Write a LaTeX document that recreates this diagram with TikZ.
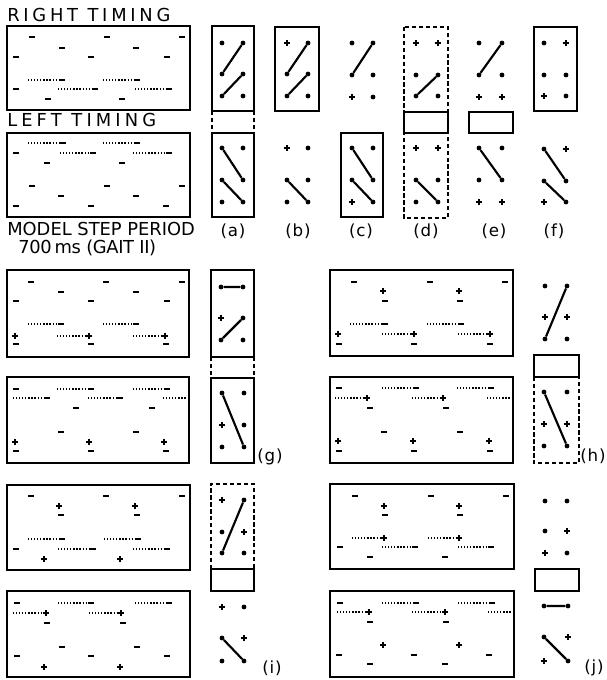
\documentclass[tikz,border=0pt]{standalone}
\usepackage{fontspec}
\newfontfamily\lett{DejaVu Sans}

% one row of marks at height #2, style #1, x positions #3
\newcommand{\evrow}[3]{\foreach \xx in {#3} {\node[#1] (#1-\xx-#2) at (\xx,#2) {};}}
% dotted trail at height #1 from #2 to #3, ending in a mark of style #4
\newcommand{\evtrail}[4]{\draw[dots] (#2,#1) -- (#3,#1); \node[#4] (#4-#3-#1) at (#3,#1) {};}
% 2x3 grid of marks: name, left x, right x, three rows, six styles
\newcommand{\minigrid}[7]{%
  \foreach \s [count=\k] in {#7} {%
    \pgfmathsetmacro\xx{mod(\k,2)==1 ? #2 : #3}%
    \pgfmathsetmacro\yy{\k<3 ? #4 : (\k<5 ? #5 : #6)}%
    \node[\s] (#1\k) at (\xx,\yy) {};
  }}

\begin{document}
\begin{tikzpicture}[x=0.75pt,y=-0.75pt,
    frame/.style={line width=1.2pt},
    boxdash/.style={line width=1pt,dash pattern=on 3.2pt off 2pt},
    dots/.style={line width=1.2pt,dash pattern=on 0.9pt off 1.4pt},
    link/.style={line width=1.6pt},
    evbar/.style={fill,inner sep=0pt,minimum width=5pt,minimum height=2.2pt},
    evdot/.style={circle,fill,inner sep=0pt,minimum size=3.6pt},
    evplus/.style={inner sep=0pt,minimum size=4.6pt,path picture={
        \draw[line width=1.1pt] (path picture bounding box.west) -- (path picture bounding box.east)
          (path picture bounding box.north) -- (path picture bounding box.south);}},
    head/.style={font=\lett\fontsize{13.4}{15}\selectfont\addfontfeature{LetterSpace=#1},
      inner sep=0pt,anchor=base west},
    head/.default=0,
    tag/.style={font=\lett\fontsize{12.5}{14}\selectfont\addfontfeature{LetterSpace=5},inner sep=0pt}]
  \useasboundingbox (0,0) rectangle (606,680);

  % headings
  \node[head=21] (right) at (7,21.5) {RIGHT TIMING};
  \node[head=23] (left) at (7,127) {LEFT TIMING};
  \node[head] (model) at (7,236) {MODEL STEP PERIOD};
  \node[head=-2] (gait) at (18,254) {700\,ms (GAIT II)};

  % right timing
  \draw[frame] (7,26) rectangle (190,110);
  \evrow{evbar}{37}{32,107,182}
  \evrow{evbar}{48}{62,136}
  \evrow{evbar}{57}{16,91,167}
  \evtrail{80}{28}{62}{evbar} \evtrail{80}{103}{137}{evbar}
  \evrow{evbar}{89}{16}
  \evtrail{89}{58}{95}{evbar} \evtrail{89}{135}{169}{evbar}
  \evrow{evbar}{99}{48,122}

  % left timing
  \draw[frame] (7,133) rectangle (190,217);
  \evtrail{143}{28}{63}{evbar} \evtrail{143}{103}{137}{evbar}
  \evrow{evbar}{153}{16}
  \evtrail{153}{60}{93}{evbar} \evtrail{153}{133}{169}{evbar}
  \evrow{evbar}{163}{47,122}
  \evrow{evbar}{186}{32,107,182}
  \evrow{evbar}{196}{61,136}
  \evrow{evbar}{206}{16,91,166}

  % (a)
  \draw[frame] (212,26) rectangle (254,111);
  \draw[boxdash] (212,111) -- (212,133) (254,111) -- (254,133);
  \draw[frame] (212,133) rectangle (254,217);
  \minigrid{au}{222}{243}{43}{74}{96}{evdot,evdot,evdot,evdot,evdot,evdot}
  \minigrid{al}{222}{243}{148}{180}{202}{evdot,evdot,evdot,evdot,evdot,evdot}
  \draw[link] (au3) -- (au2) (au5) -- (au4);
  \draw[link] (al1) -- (al4) (al3) -- (al6);
  % (b)
  \draw[frame] (275,27) rectangle (319,111);
  \minigrid{bu}{287}{308}{43}{74}{96}{evplus,evdot,evdot,evdot,evdot,evdot}
  \minigrid{bl}{287}{308}{148}{180}{202}{evplus,evdot,evdot,evdot,evdot,evdot}
  \draw[link] (bu3) -- (bu2) (bu5) -- (bu4);
  \draw[link] (bl3) -- (bl6);
  % (c)
  \draw[frame] (341,133) rectangle (383,217);
  \minigrid{cu}{352}{373}{43}{75}{97}{evdot,evdot,evdot,evdot,evplus,evdot}
  \minigrid{cl}{352}{373}{148}{180}{202}{evdot,evdot,evdot,evdot,evplus,evdot}
  \draw[link] (cu3) -- (cu2);
  \draw[link] (cl1) -- (cl4) (cl3) -- (cl6);
  % (d)
  \draw[boxdash] (404,27) rectangle (448,218);
  \draw[frame] (404,112) rectangle (448,133);
  \minigrid{du}{416}{438}{43}{75}{96}{evplus,evplus,evdot,evdot,evdot,evdot}
  \minigrid{dl}{416}{438}{148}{180}{202}{evplus,evplus,evdot,evdot,evdot,evdot}
  \draw[link] (du5) -- (du4);
  \draw[link] (dl3) -- (dl6);
  % (e)
  \draw[frame] (469,112) rectangle (513,133);
  \minigrid{eu}{479}{502}{43}{75}{97}{evdot,evdot,evdot,evdot,evplus,evplus}
  \minigrid{el}{479}{502}{148}{180}{202}{evdot,evdot,evdot,evdot,evplus,evplus}
  \draw[link] (eu3) -- (eu2);
  \draw[link] (el1) -- (el4);
  % (f)
  \draw[frame] (534,27) rectangle (577,111);
  \minigrid{fu}{544}{566}{43}{75}{96}{evdot,evplus,evdot,evdot,evplus,evdot}
  \minigrid{fl}{544}{566}{149}{181}{202}{evdot,evplus,evdot,evdot,evplus,evdot}
  \draw[link] (fl1) -- (fl4) (fl3) -- (fl6);

  \node[tag] (la) at (233,231.5) {(a)};
  \node[tag] (lb) at (298,231.5) {(b)};
  \node[tag] (lc) at (361,231.5) {(c)};
  \node[tag] (ld) at (426,231.5) {(d)};
  \node[tag] (le) at (494,231.5) {(e)};
  \node[tag] (lf) at (554,231.5) {(f)};

  % gait (g), upper
  \draw[frame] (7,270) rectangle (189,357);
  \evrow{evbar}{282}{31,106,182}
  \evrow{evbar}{292}{61,136}
  \evrow{evbar}{301}{16,91,167}
  \evtrail{324}{28}{61}{evbar} \evtrail{324}{103}{136}{evbar}
  \evrow{evplus}{336}{15}
  \evtrail{336}{57}{89}{evplus} \evtrail{336}{133}{165}{evplus}
  \evrow{evbar}{344}{16,91,166}
  % gait (g), lower
  \draw[frame] (7,377) rectangle (189,463);
  \evrow{evbar}{389}{16}
  \evtrail{389}{57}{91}{evbar} \evtrail{389}{133}{167}{evbar}
  \evtrail{398}{13}{47}{evbar} \evtrail{398}{88}{120}{evbar}
  \draw[dots] (163,398) -- (188,398);
  \evrow{evbar}{408}{76,152}
  \evrow{evbar}{432}{61,136}
  \evrow{evplus}{442}{15,89,164}
  \evrow{evbar}{451}{16,91,166}

  \draw[frame] (211,270) rectangle (254,357);
  \draw[boxdash] (211,357) -- (211,378) (254,357) -- (254,378);
  \draw[frame] (211,378) rectangle (254,463);
  \minigrid{gu}{221}{243}{287}{318}{340}{evdot,evdot,evplus,evdot,evdot,evdot}
  \minigrid{gl}{222}{244}{393}{425}{447}{evdot,evdot,evplus,evdot,evdot,evdot}
  \draw[link] (gu1) -- (gu2) (gu5) -- (gu4);
  \draw[link] (gl1) -- (gl6);
  \node[tag] (lg) at (270,457) {(g)};

  % gait (h), upper
  \draw[frame] (330,270) rectangle (513,356);
  \evrow{evbar}{282}{354,430,505}
  \evrow{evplus}{291}{383,459}
  \evrow{evbar}{301}{385,460}
  \evtrail{324}{350}{385}{evbar} \evtrail{324}{427}{461}{evbar}
  \evrow{evplus}{334}{338}
  \evtrail{334}{382}{414}{evplus} \evtrail{334}{458}{490}{evplus}
  \evrow{evbar}{344}{339,414,490}
  % gait (h), lower
  \draw[frame] (330,377) rectangle (513,463);
  \evrow{evbar}{388}{339}
  \evtrail{388}{382}{416}{evbar} \evtrail{388}{457}{491}{evbar}
  \evtrail{398}{335}{367}{evplus} \evtrail{398}{412}{443}{evplus}
  \draw[dots] (487,398) -- (512,398);
  \evrow{evbar}{408}{370,446}
  \evrow{evbar}{432}{384,460}
  \evrow{evplus}{441}{338,413,489}
  \evrow{evbar}{451}{339,414,490}

  \draw[frame] (534,355) rectangle (579,377);
  \draw[boxdash] (534,377) -- (534,463) -- (579,463) -- (579,377);
  \minigrid{hu}{545}{567}{286}{317}{339}{evdot,evdot,evplus,evplus,evdot,evdot}
  \minigrid{hl}{544}{567}{392}{424}{446}{evdot,evdot,evplus,evplus,evdot,evdot}
  \draw[link] (hu5) -- (hu2);
  \draw[link] (hl1) -- (hl6);
  \node[tag] (lh) at (593,456) {(h)};

  % gait (i), upper
  \draw[frame] (7,485) rectangle (190,570);
  \evrow{evbar}{496}{31,106,182}
  \evrow{evplus}{506}{59,135}
  \evrow{evbar}{515}{61,137}
  \evtrail{539}{28}{62}{evbar} \evtrail{539}{104}{138}{evbar}
  \evrow{evbar}{549}{16}
  \evtrail{549}{58}{93}{evbar} \evtrail{549}{133}{167}{evbar}
  \evrow{evplus}{559}{44,120}
  % gait (i), lower
  \draw[frame] (7,591) rectangle (190,677);
  \evrow{evbar}{603}{17}
  \evtrail{603}{58}{91}{evbar} \evtrail{603}{135}{169}{evbar}
  \evtrail{613}{13}{46}{evplus} \evtrail{613}{89}{121}{evplus}
  \evrow{evbar}{623}{47,123}
  \evrow{evbar}{647}{62,137}
  \evrow{evbar}{656}{17,91,167}
  \evrow{evplus}{667}{44,120}

  \draw[boxdash] (211,569) -- (211,484) -- (254,484) -- (254,569);
  \draw[frame] (211,569) rectangle (254,591);
  \minigrid{iu}{222}{244}{500}{532}{553}{evplus,evdot,evdot,evplus,evdot,evdot}
  \minigrid{il}{222}{244}{607}{638}{661}{evplus,evdot,evdot,evplus,evdot,evdot}
  \draw[link] (iu5) -- (iu2);
  \draw[link] (il3) -- (il6);
  \node[tag] (li) at (272,668) {(i)};

  % gait (j), upper
  \draw[frame] (330,484) rectangle (514,569);
  \evrow{evbar}{496}{355,431,506}
  \evrow{evplus}{506}{384,459}
  \evrow{evbar}{515}{385,460}
  \evtrail{538}{352}{384}{evplus} \evtrail{538}{428}{459}{evplus}
  \evrow{evbar}{547}{340}
  \evtrail{547}{382}{415}{evbar} \evtrail{547}{458}{491}{evbar}
  \evrow{evbar}{557}{370,445}
  % gait (j), lower
  \draw[frame] (330,591) rectangle (514,677);
  \evrow{evbar}{603}{340}
  \evtrail{603}{382}{416}{evbar} \evtrail{603}{458}{492}{evbar}
  \evtrail{612}{337}{369}{evplus} \evtrail{612}{412}{445}{evplus}
  \draw[dots] (488,612) -- (513,612);
  \evrow{evbar}{622}{370,446}
  \evrow{evplus}{645}{383,459}
  \evrow{evbar}{655}{339,414,489}
  \evrow{evbar}{664}{370,445}

  \draw[frame] (535,569) rectangle (579,591);
  \minigrid{ju}{545}{567}{501}{531}{553}{evdot,evdot,evdot,evplus,evplus,evdot}
  \minigrid{jl}{544}{568}{606}{637}{661}{evdot,evdot,evdot,evplus,evplus,evdot}
  \draw[link] (jl1) -- (jl2) (jl3) -- (jl6);
  \node[tag] (lj) at (594,668) {(j)};
\end{tikzpicture}
\end{document}
